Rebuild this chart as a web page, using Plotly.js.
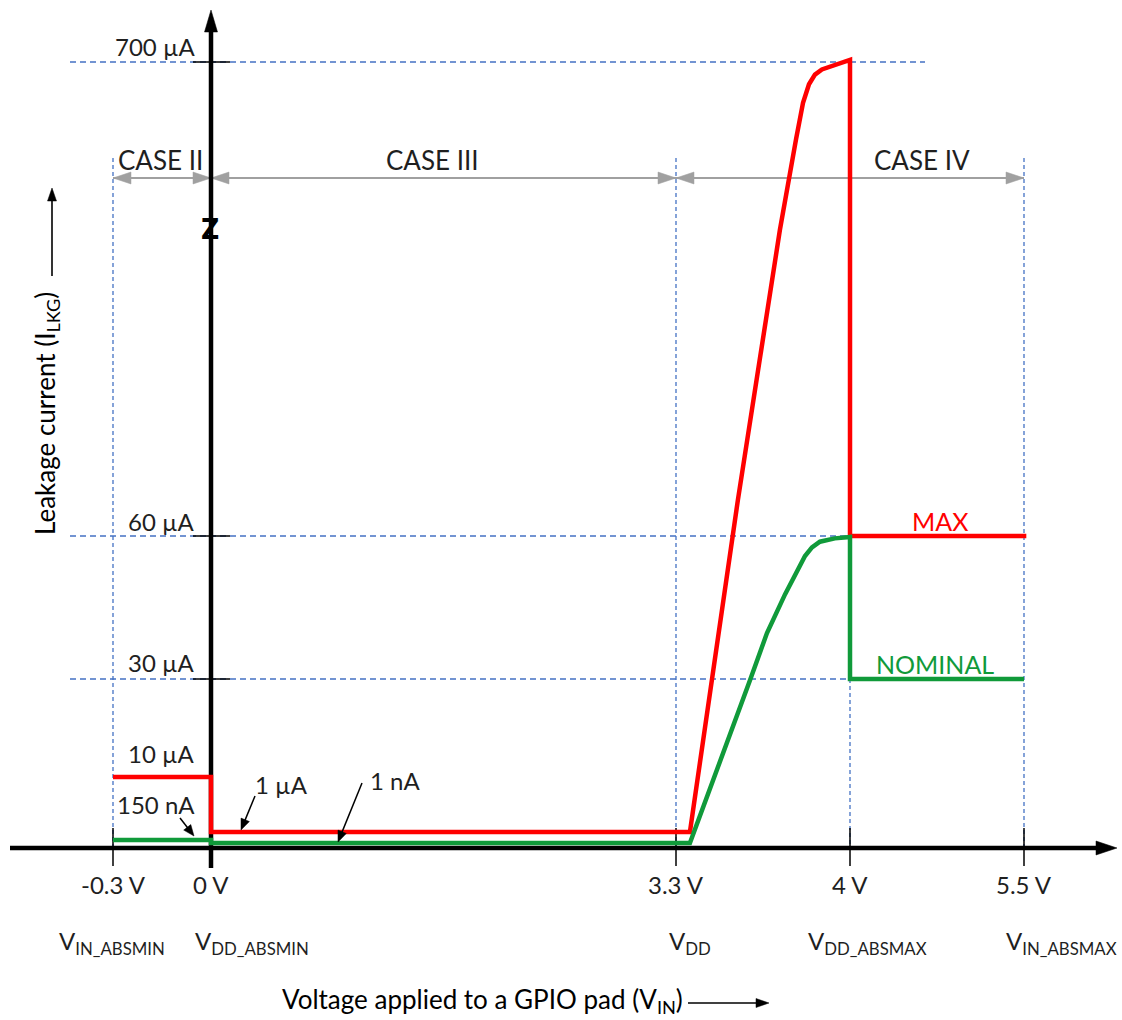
<!DOCTYPE html>
<html><head><meta charset="utf-8">
<script src="https://cdn.plot.ly/plotly-3.0.1.min.js"></script>
<style>html,body{margin:0;padding:0;background:#fff}#chart{width:1122px;height:1020px}</style>
</head><body><div id="chart"></div>
<script>
// ---------------- data ----------------
const xTickVolts = [-0.3, 0, 3.3, 4, 5.5];
const xTickLabels = ['-0.3 V', '0 V', '3.3 V', '4 V', '5.5 V'];
const xTickNames = ['V<sub>IN_ABSMIN</sub>', 'V<sub>DD_ABSMIN</sub>', 'V<sub>DD</sub>', 'V<sub>DD_ABSMAX</sub>', 'V<sub>IN_ABSMAX</sub>'];
const yTickCurrents = [700, 60, 30];                 // µA levels with axis tick + guide line
const yLabelCurrents = [700, 60, 30, 10, 0.15];      // µA
const yLabelTexts = ['700 µA', '60 µA', '30 µA', '10 µA', '150 nA'];
const caseNames = ['CASE II', 'CASE III', 'CASE IV'];
const caseBounds = [-0.3, 0, 3.3, 5.5];              // V
const maxVolts   = [-0.3, 0, 0, 3.356, 3.549, 3.718, 3.783, 3.811, 3.835, 3.859, 3.887, 3.928, 4.0, 4.0, 5.52];
const maxCurrent = [10, 10, 1, 1, 108.6, 473.2, 596, 645, 670, 683, 690, 695, 703, 60, 60];
const nomVolts   = [-0.3, 0, 0, 3.356, 3.598, 3.666, 3.739, 3.787, 3.819, 3.847, 3.879, 3.939, 4.0, 4.0, 5.5];
const nomCurrent = [0.15, 0.15, 0.001, 0.001, 29.8, 39.65, 47.8, 52.9, 55.8, 57.6, 58.8, 59.5, 59.8, 30, 30];
const seriesNames = ['MAX', 'NOMINAL'];

// ---------------- schematic (broken) scale anchors : layout ----------------
const X_ANCHOR_V  = [-0.3, 0, 3.3, 4, 5.5];
const X_ANCHOR_PX = [113, 211, 676, 850, 1024];
const Y_ANCHOR_I  = [0, 0.001, 0.15, 1, 10, 30, 60, 700];
const Y_ANCHOR_PX = [848, 843, 840, 832, 777, 679, 536, 62];
function interp(v, a, p) {
  let i = 0;
  while (i < a.length - 2 && v > a[i + 1]) i++;
  return p[i] + (v - a[i]) * (p[i + 1] - p[i]) / (a[i + 1] - a[i]);
}
const vx = v => interp(v, X_ANCHOR_V, X_ANCHOR_PX);
const iy = c => interp(c, Y_ANCHOR_I, Y_ANCHOR_PX);

const RED = '#ff0000', GREEN = '#109a3a', BLUE = '#4472c4', GREY = '#a0a0a0', INK = '#1f1f1f';
const FONT = 'Lato, "Open Sans", sans-serif';

const traces = [
  {x: maxVolts.map(vx), y: maxCurrent.map(iy), mode: 'lines', name: seriesNames[0],
   line: {color: RED, width: 4.5}, hoverinfo: 'skip'},
  {x: nomVolts.map(vx), y: nomCurrent.map(iy), mode: 'lines', name: seriesNames[1],
   line: {color: GREEN, width: 4.5}, hoverinfo: 'skip'}
];

const shapes = [];
const ann = [];
function line(x0, y0, x1, y1, color, width, dash, layer) {
  shapes.push({type: 'line', xref: 'x', yref: 'y', x0, y0, x1, y1, layer: layer || 'below',
    line: {color, width, dash: dash || 'solid'}});
}
function tri(pts, color, layer) {
  shapes.push({type: 'path', xref: 'x', yref: 'y', layer: layer || 'below',
    path: 'M' + pts.map(p => p[0].toFixed(2) + ',' + p[1].toFixed(2)).join(' L') + ' Z',
    fillcolor: color, line: {color: color, width: 0.5}});
}
function arrow(tx, ty, hx, hy, color, width, len, half, layer) {
  const dx = hx - tx, dy = hy - ty, L = Math.hypot(dx, dy);
  const ux = dx / L, uy = dy / L, nx = -uy, ny = ux;
  const bx = hx - ux * len, by = hy - uy * len;
  line(tx, ty, hx - ux * len * 0.6, hy - uy * len * 0.6, color, width, 'solid', layer);
  tri([[hx, hy], [bx + nx * half, by + ny * half], [bx - nx * half, by - ny * half]], color, layer);
}

// horizontal dashed guides
yTickCurrents.forEach(c => line(70, iy(c), 925, iy(c), BLUE, 1.3, '6px,4px'));
// vertical dashed guides
[-0.3, 3.3, 5.5].forEach(v => line(vx(v), 158, vx(v), 848, BLUE, 1.3, '4px,3px'));
line(vx(4), iy(30), vx(4), 848, BLUE, 1.3, '4px,3px');

// case arrows
const CASE_Y = 178;
line(vx(caseBounds[0]), CASE_Y, vx(caseBounds[caseBounds.length - 1]), CASE_Y, GREY, 2);
for (let k = 0; k < caseNames.length; k++) {
  const a = vx(caseBounds[k]), b = vx(caseBounds[k + 1]);
  tri([[a, CASE_Y], [a + 18, CASE_Y - 6], [a + 18, CASE_Y + 6]], GREY);
  tri([[b, CASE_Y], [b - 18, CASE_Y - 6], [b - 18, CASE_Y + 6]], GREY);
}
const caseLabelPx = [160, 432, 922];
caseNames.forEach((n, k) => ann.push({x: caseLabelPx[k], y: 160, text: n, showarrow: false,
  font: {family: FONT, size: 26, color: INK}, xanchor: 'center', yanchor: 'middle'}));

// main axes
line(10, 848, 1100, 848, '#000', 4.5);
tri([[1117, 848], [1096, 841], [1096, 855]], '#000');
line(vx(0), 868, vx(0), 28, '#000', 4.5);
tri([[vx(0), 10], [vx(0) - 6.5, 32], [vx(0) + 6.5, 32]], '#000');
ann.push({x: vx(0) - 1, y: 229, text: '<b>Z</b>', showarrow: false,
  font: {family: '"DejaVu Sans Condensed", "Liberation Sans Narrow", "Liberation Sans"', size: 28, color: '#000'},
  xanchor: 'center', yanchor: 'middle'});

// axis ticks
yTickCurrents.forEach(c => line(193, iy(c), 230, iy(c), '#000', 1.5));
xTickVolts.forEach(v => line(vx(v), 828, vx(v), 866, '#000', 1.5));

// tick labels
xTickLabels.forEach((t, k) => ann.push({x: vx(xTickVolts[k]), y: 884, text: t, showarrow: false,
  font: {family: FONT, size: 24, color: INK}, xanchor: 'center', yanchor: 'middle'}));
const namePx = [57, 193, 667, 806, 1119];
const nameAnchor = ['left', 'left', 'left', 'left', 'right'];
xTickNames.forEach((t, k) => ann.push({x: namePx[k], y: 942, text: t, showarrow: false,
  font: {family: FONT, size: 24, color: INK}, xanchor: nameAnchor[k], yanchor: 'middle'}));
const yLabelPx = [46, 521, 662, 753, 804];
yLabelTexts.forEach((t, k) => ann.push({x: 197, y: yLabelPx[k], text: t, showarrow: false,
  font: {family: FONT, size: 24, color: INK}, xanchor: 'right', yanchor: 'middle'}));

// pointer labels + arrows
ann.push({x: 281, y: 784, text: '1 µA', showarrow: false,
  font: {family: FONT, size: 24, color: INK}, xanchor: 'center', yanchor: 'middle'});
ann.push({x: 395, y: 780, text: '1 nA', showarrow: false,
  font: {family: FONT, size: 24, color: INK}, xanchor: 'center', yanchor: 'middle'});
arrow(180, 818, 194, 836, '#000', 1.5, 11, 4.5, 'above');
arrow(255, 796, 241, 830, '#000', 1.5, 11, 4.5, 'above');
arrow(362, 783, 338, 842, '#000', 1.5, 11, 4.5, 'above');

// series labels
ann.push({x: 940, y: 521, text: seriesNames[0], showarrow: false,
  font: {family: FONT, size: 25, color: RED}, xanchor: 'center', yanchor: 'middle'});
ann.push({x: 935, y: 664, text: seriesNames[1], showarrow: false,
  font: {family: FONT, size: 25, color: GREEN}, xanchor: 'center', yanchor: 'middle'});

// axis titles
ann.push({x: 46, y: 414, text: 'Leakage current (I<sub>LKG</sub>)', textangle: -90, showarrow: false,
  font: {family: FONT, size: 26, color: '#000'}, xanchor: 'center', yanchor: 'middle'});
arrow(52, 276, 52, 188, '#000', 1.6, 13, 4.5);
ann.push({x: 280, y: 1000, text: 'Voltage applied to a GPIO pad (V<sub>IN</sub>)', showarrow: false,
  font: {family: FONT, size: 26, color: '#000'}, xanchor: 'left', yanchor: 'middle'});
arrow(688, 1003, 769, 1003, '#000', 1.6, 13, 4.5);

const layout = {
  width: 1122, height: 1020,
  margin: {l: 0, r: 0, t: 0, b: 0},
  paper_bgcolor: '#fff', plot_bgcolor: '#fff',
  showlegend: false,
  xaxis: {range: [0, 1122], visible: false, fixedrange: true},
  yaxis: {range: [1020, 0], visible: false, fixedrange: true},
  shapes: shapes,
  annotations: ann
};
Plotly.newPlot('chart', traces, layout, {staticPlot: true, displayModeBar: false});
</script>
</body></html>
